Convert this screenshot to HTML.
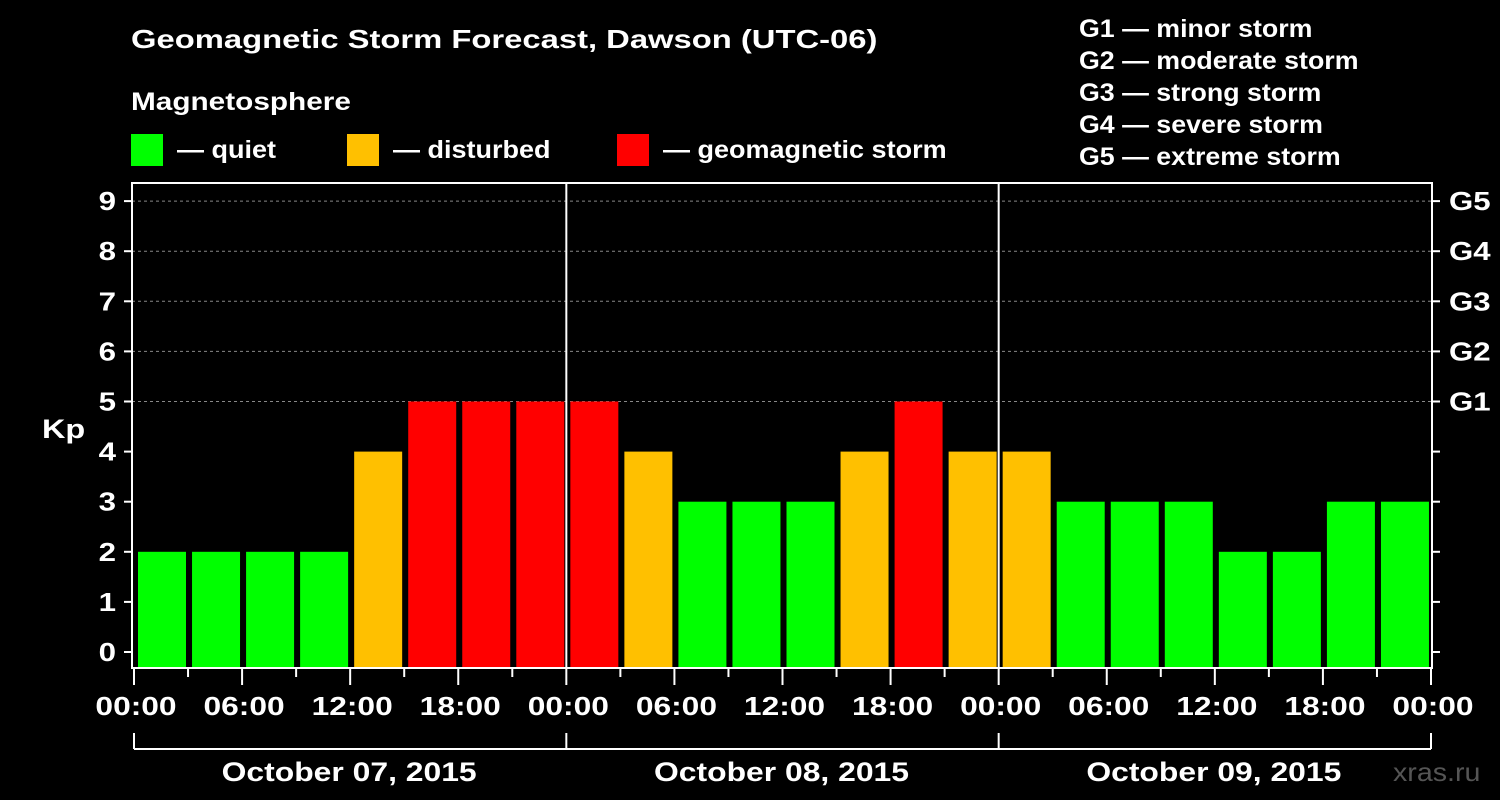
<!DOCTYPE html>
<html><head><meta charset="utf-8"><style>
html,body{margin:0;padding:0;background:#000;}
svg{display:block;font-family:"Liberation Sans",Arial,sans-serif;font-weight:bold;}
</style></head><body>
<svg id="chart" width="1500" height="800" xmlns="http://www.w3.org/2000/svg">
<rect width="1500" height="800" fill="#000"/>
<text x="131" y="48" fill="#fff" font-size="26" data-sx="1.26">Geomagnetic Storm Forecast, Dawson (UTC-06)</text>
<text x="131" y="110" fill="#fff" font-size="25" data-sx="1.19">Magnetosphere</text>
<g><rect x="131" y="134" width="32" height="32" fill="#00ff00"/><text x="177" y="158" fill="#fff" font-size="25" data-sx="1.08">— quiet</text></g>
<g><rect x="347" y="134" width="32" height="32" fill="#ffc000"/><text x="393" y="158" fill="#fff" font-size="25" data-sx="1.08">— disturbed</text></g>
<g><rect x="617" y="134" width="32" height="32" fill="#ff0000"/><text x="663" y="158" fill="#fff" font-size="25" data-sx="1.08">— geomagnetic storm</text></g>
<g fill="#fff" font-size="25">
<text x="1079" y="37" data-sx="1.07">G1 — minor storm</text>
<text x="1079" y="69" data-sx="1.07">G2 — moderate storm</text>
<text x="1079" y="101" data-sx="1.07">G3 — strong storm</text>
<text x="1079" y="133" data-sx="1.07">G4 — severe storm</text>
<text x="1079" y="165" data-sx="1.07">G5 — extreme storm</text>
</g>
<text x="42" y="438" fill="#fff" font-size="27" data-sx="1.2">Kp</text>
<text x="1393" y="781" fill="#555" font-size="26" font-weight="normal" data-sx="1.1">xras.ru</text>
<g id="marks"></g>
</svg>
<script>
const days = ["October 07, 2015","October 08, 2015","October 09, 2015"];
const kpValues = [2,2,2,2,4,5,5,5, 5,4,3,3,3,4,5,4, 4,3,3,3,2,2,3,3];
const kpTicks = [0,1,2,3,4,5,6,7,8,9];
const gLabels = ["G1","G2","G3","G4","G5"];
const hourLabels = ["00:00","06:00","12:00","18:00"];

const NS="http://www.w3.org/2000/svg";
const g=document.getElementById('marks');
const L=132,R=1432,T=183,B=668;
const X0=134,X1=1431;
const dayW=(X1-X0)/days.length;
const yS=v=>652-v*50.1;
const xS=h=>X0+h/24*dayW;
function mk(tag,attrs,parent){const e=document.createElementNS(NS,tag);for(const k in attrs)e.setAttribute(k,attrs[k]);(parent||g).appendChild(e);return e;}

for(const v of kpTicks){ if(v>=5){const l=mk('line',{x1:L,x2:R,y1:yS(v),y2:yS(v),stroke:'#888','stroke-dasharray':'3,3','stroke-width':1});

}}
const slot=(X1-X0)/kpValues.length;
kpValues.forEach((v,i)=>{
  const col=v>=5?'#ff0000':(v>=4?'#ffc000':'#00ff00');
  const x=X0+i*slot+4;
  const r=mk('rect',{x:x,y:yS(v),width:48,height:B-yS(v),fill:col});
  
  
});
const f=mk('rect',{x:L,y:T,width:R-L,height:B-T,fill:'none',stroke:'#fff','stroke-width':2});


for(let d=1;d<days.length;d++){const l=mk('line',{x1:xS(d*24),x2:xS(d*24),y1:T,y2:B,stroke:'#fff','stroke-width':2});

}
for(const v of kpTicks){
  mk('line',{x1:L-8,x2:L,y1:yS(v),y2:yS(v),stroke:'#fff','stroke-width':2});
  mk('line',{x1:R,x2:R+8,y1:yS(v),y2:yS(v),stroke:'#fff','stroke-width':2});
  const t=mk('text',{x:L-16,y:yS(v)+9,fill:'#fff','font-size':26,'text-anchor':'end','data-sx':1.2});t.textContent=v;
  
  
}
gLabels.forEach((s,i)=>{const t=mk('text',{x:R+17,y:yS(5+i)+9,fill:'#fff','font-size':26,'data-sx':1.2});t.textContent=s;

});
for(let h=0;h<=24*days.length;h+=3){
  const x=xS(h);const major=h%6===0;
  mk('line',{x1:x,x2:x,y1:B,y2:B+(major?17:9),stroke:'#fff','stroke-width':2});
  if(major){const t=mk('text',{x:x+2,y:715,fill:'#fff','font-size':26,'text-anchor':'middle','data-sx':1.22});t.textContent=hourLabels[(h/6)%4];
  
  }
}
mk('line',{x1:X0,x2:X1,y1:749,y2:749,stroke:'#fff','stroke-width':2});
for(let d=0;d<=days.length;d++){mk('line',{x1:xS(d*24),x2:xS(d*24),y1:733,y2:749,stroke:'#fff','stroke-width':2});}
days.forEach((s,d)=>{const t=mk('text',{x:xS((d+0.5)*24)-1,y:781,fill:'#fff','font-size':27,'text-anchor':'middle','data-sx':1.18});t.textContent=s;

});
document.querySelectorAll('text[data-sx]').forEach(t=>{
  const w=t.getComputedTextLength();
  t.setAttribute('textLength',(w*parseFloat(t.getAttribute('data-sx'))).toFixed(1));
  t.setAttribute('lengthAdjust','spacingAndGlyphs');
});
</script>
</body></html>
